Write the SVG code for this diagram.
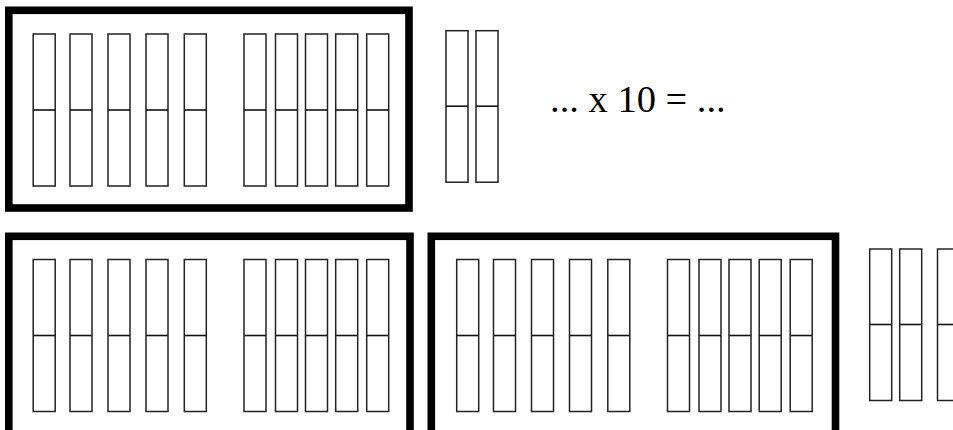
<svg xmlns="http://www.w3.org/2000/svg" xmlns:xlink="http://www.w3.org/1999/xlink" width="953" height="430" viewBox="0 0 953 430">
<style>
.frame{fill:none;stroke:#000;stroke-width:7.6;stroke-linejoin:miter}
.bar rect{fill:#fff;stroke:#222;stroke-width:1.5}
.bar line{stroke:#111;stroke-width:1.6}
.lbl{font-family:"Liberation Serif","Times New Roman",serif;font-size:38.5px;fill:#000}
</style>
<defs>
<g id="bar" class="bar"><rect x="0" y="0" width="22" height="152"/><line x1="0" y1="76" x2="22" y2="76"/></g>
<g id="sbar" class="bar"><rect x="0" y="0" width="22" height="151.5"/><line x1="0" y1="75.5" x2="22" y2="75.5"/></g>
<g id="tenBars">
<use xlink:href="#bar" x="33.2" y="0"/>
<use xlink:href="#bar" x="70" y="0"/>
<use xlink:href="#bar" x="108" y="0"/>
<use xlink:href="#bar" x="146" y="0"/>
<use xlink:href="#bar" x="184.3" y="0"/>
<use xlink:href="#bar" x="244" y="0"/>
<use xlink:href="#bar" x="275.5" y="0"/>
<use xlink:href="#bar" x="305.5" y="0"/>
<use xlink:href="#bar" x="335.7" y="0"/>
<use xlink:href="#bar" x="366.7" y="0"/>
</g>
</defs>
<rect width="953" height="430" fill="#fff"/>
<g id="box-top">
<rect class="frame" x="8.8" y="10.3" width="400.2" height="197.7"/>
<use xlink:href="#tenBars" x="0" y="34"/>
</g>
<g id="extra-top">
<use xlink:href="#sbar" x="446" y="30.7"/>
<use xlink:href="#sbar" x="476" y="30.7"/>
</g>
<g id="equation">
<text class="lbl" x="550" y="111.5">... x 10 = ...</text>
</g>
<g id="box-bottom-1">
<rect class="frame" x="8.8" y="236.3" width="401.2" height="198"/>
<use xlink:href="#tenBars" x="0" y="259.5"/>
</g>
<g id="box-bottom-2">
<rect class="frame" x="431.3" y="236.3" width="404.2" height="198"/>
<use xlink:href="#tenBars" x="423.5" y="259.5"/>
</g>
<g id="extra-bottom">
<use xlink:href="#sbar" x="869.7" y="249"/>
<use xlink:href="#sbar" x="899.7" y="249"/>
<use xlink:href="#sbar" x="937.5" y="249"/>
</g>
</svg>
